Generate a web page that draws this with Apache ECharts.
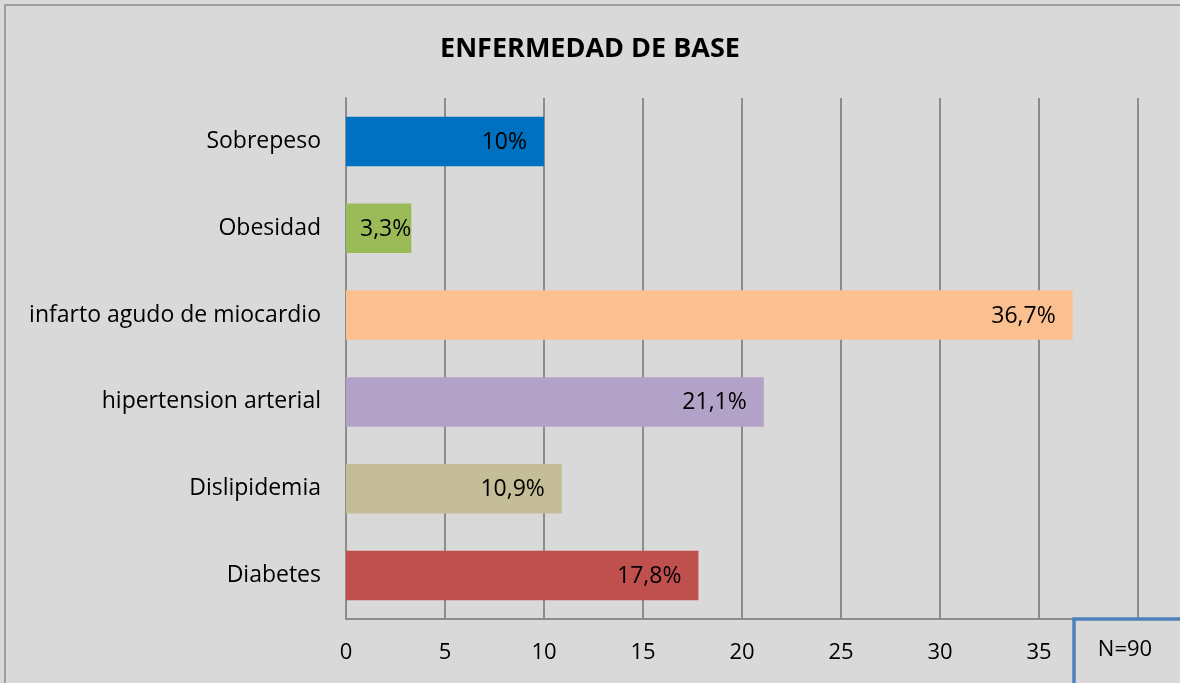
<!DOCTYPE html>
<html><head><meta charset="utf-8">
<script src="https://cdn.jsdelivr.net/npm/echarts@6/dist/echarts.min.js"></script>
<style>html,body{margin:0;padding:0;background:#fff}#c{width:1180px;height:683px}</style>
</head><body><div id="c"></div>
<script>
const categories = ['Diabetes','Dislipidemia','hipertension arterial','infarto agudo de miocardio','Obesidad','Sobrepeso'];
const values = [17.8, 10.9, 21.1, 36.7, 3.3, 10];
const labels = ['17,8%','10,9%','21,1%','36,7%','3,3%','10%'];
const colors = ['#c0504d','#c4bd97','#b3a2c7','#fac090','#9bbb59','#0070c0'];
const xTicks = [0,5,10,15,20,25,30,35,40];

const chart = echarts.init(document.getElementById('c'));
const font = '"Open Sans", "Noto Sans", sans-serif';
chart.setOption({
  backgroundColor: '#d9d9d9',
  animation: false,
  title: { text: 'ENFERMEDAD DE BASE', left: 'center', top: 31,
    textStyle: { fontFamily: font, fontSize: 27, fontWeight: 'bold', color: '#000' } },
  grid: { left: 346, top: 98, right: 42, bottom: 64 },
  xAxis: { type: 'value', min: 0, max: 40, interval: 5,
    axisLine: { show: true, lineStyle: { color: '#8c8c8c', width: 2 } },
    axisTick: { show: false },
    splitLine: { show: true, lineStyle: { color: '#8c8c8c', width: 2 } },
    axisLabel: { margin: 23, fontFamily: font, fontSize: 22, color: '#000',
      formatter: v => xTicks.includes(v) ? String(v) : '' } },
  yAxis: { type: 'category', data: categories,
    axisLine: { show: true, lineStyle: { color: '#8c8c8c', width: 2 } },
    axisTick: { show: false },
    axisLabel: { margin: 25, fontFamily: font, fontSize: 23, color: '#000' } },
  series: [{
    type: 'bar', barCategoryGap: '43%',
    data: values.map((v, i) => {
      const d = { value: v, itemStyle: { color: colors[i] } };
      d.label = (v < 5) ? { position: 'insideLeft', distance: 14 } : { position: 'insideRight', distance: 17 };
      return d;
    }),
    label: { show: true, fontFamily: font, fontSize: 23, color: '#000', offset: [0, 1],
      formatter: p => labels[p.dataIndex] }
  }],
  graphic: [
    { type: 'rect', shape: { x: 5, y: 5, width: 1200, height: 700 }, z: 100,
      style: { fill: 'none', stroke: '#8a8a8a', lineWidth: 1.5 } },
    { type: 'rect', shape: { x: 1074, y: 619, width: 120, height: 80 }, z: 101,
      style: { fill: '#d9d9d9', stroke: '#4f81bd', lineWidth: 3.5 } },
    { type: 'text', x: 1125, y: 650, z: 102,
      style: { text: 'N=90', fill: '#000', font: '22px ' + font, textAlign: 'center', textVerticalAlign: 'middle' } }
  ]
});
</script></body></html>
